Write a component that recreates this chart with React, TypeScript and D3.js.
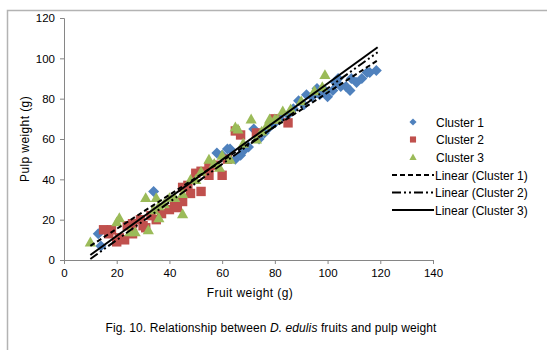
import React, { useRef, useEffect } from "react";
import * as d3 from "d3";

// fruit weight (g), pulp weight (g) per cluster
const cluster1 = [
  [13, 13], [14, 7], [34, 34], [58, 53], [60, 52], [62, 55], [63, 55], [65, 50],
  [67, 52], [68, 54], [70, 56], [72, 65], [74, 60], [76, 63], [78, 66], [80, 68],
  [82, 70], [85, 72], [87, 75], [89, 79], [91, 77], [92, 82], [94, 81], [96, 85],
  [97, 82], [98, 84], [99, 84], [100, 81], [102, 84], [103, 88], [104, 90], [105, 86],
  [107, 86], [108.5, 84], [109, 90], [111, 88], [113, 90], [115, 93], [116, 93], [118.5, 94],
];
const cluster2 = [
  [15, 15], [18, 15], [17, 13], [20, 9], [21, 11], [23, 10], [24, 17], [26, 18],
  [26, 13], [29, 20], [30, 17], [31, 16], [33, 22], [35, 20], [37, 23], [40, 25],
  [42, 28], [43, 26], [45, 29], [45, 36], [47, 37], [48, 33], [50, 43], [52, 34],
  [52, 44], [55, 42], [55, 46], [57, 47], [60, 42], [62, 50], [65, 64], [67, 62],
  [73, 63], [80, 70], [85, 68],
];
const cluster3 = [
  [10, 9], [20, 19], [21, 21], [25, 14], [27, 14], [31, 31], [32, 15], [34, 25],
  [35, 31], [36, 21], [36, 27], [38, 28], [40, 31], [42, 31], [45, 23], [45, 33],
  [48, 40], [50, 40], [52, 44], [55, 50], [57, 48], [59, 46], [60, 52], [63, 50],
  [65, 66], [66, 65], [68, 58], [71, 70], [73, 60], [75, 64], [77, 67], [78, 70],
  [80, 70], [81, 70], [83, 74], [86, 75], [90, 79], [95, 84], [98, 86], [99, 92],
];

// linear trendlines (start, end)
const trendX = [10, 119];
const trend1 = [7, 99];
const trend2 = [0.5, 103];
const trend3 = [2.5, 105.5];

const xTicks = [0, 20, 40, 60, 80, 100, 120, 140];
const yTicks = [0, 20, 40, 60, 80, 100, 120];

const seriesNames = ["Cluster 1", "Cluster 2", "Cluster 3"];
const trendNames = ["Linear (Cluster 1)", "Linear (Cluster 2)", "Linear (Cluster 3)"];

const colors = ["#4f81bd", "#c0504d", "#9bbb59"];
const dashes = ["5,3", "9,3,2,3,2,3", null];
const font = "'Liberation Sans', Arial, sans-serif";

const markerPath = (i: number) => {
  if (i === 0) return "M0,-5.5L5.5,0L0,5.5L-5.5,0Z";
  if (i === 1) return "M-4.7,-4.7H4.7V4.7H-4.7Z";
  return "M0,-5.3L5.6,4.6L-5.6,4.6Z";
};

export default function App() {
  const svgRef = useRef<SVGSVGElement>(null);

  useEffect(() => {
    const svg = d3.select(svgRef.current);
    svg.selectAll("*").remove();

    const x = d3.scaleLinear().domain([0, 140]).range([64, 433]);
    const y = d3.scaleLinear().domain([0, 120]).range([260, 18]);

    // outer frame
    svg
      .append("rect")
      .attr("x", 7.5)
      .attr("y", 10.5)
      .attr("width", 600)
      .attr("height", 400)
      .attr("fill", "white")
      .attr("stroke", "#b3b3b3")
      .attr("stroke-width", 1.5);

    // axes
    const axisColor = "#868686";
    const yAxis = svg
      .append("g")
      .attr("transform", `translate(${x(0)},0)`)
      .call(d3.axisLeft(y).tickValues(yTicks).tickSize(4).tickPadding(5));
    const xAxis = svg
      .append("g")
      .attr("transform", `translate(0,${y(0)})`)
      .call(d3.axisBottom(x).tickValues(xTicks).tickSize(4).tickPadding(5));
    [xAxis, yAxis].forEach((g) => {
      g.select(".domain").attr("stroke", axisColor);
      g.selectAll(".tick line").attr("stroke", axisColor);
      g.selectAll(".tick text")
        .attr("fill", "#000")
        .style("font-family", font)
        .style("font-size", "11.5px");
    });

    // points
    [cluster1, cluster2, cluster3].forEach((data, i) => {
      svg
        .append("g")
        .selectAll("path")
        .data(data)
        .enter()
        .append("path")
        .attr("transform", (d) => `translate(${x(d[0])},${y(d[1])})`)
        .attr("d", markerPath(i))
        .attr("fill", colors[i]);
    });

    // trendlines
    [trend1, trend2, trend3].forEach((t, i) => {
      const line = svg
        .append("line")
        .attr("x1", x(trendX[0]))
        .attr("y1", y(t[0]))
        .attr("x2", x(trendX[1]))
        .attr("y2", y(t[1]))
        .attr("stroke", "#000")
        .attr("stroke-width", 2);
      if (dashes[i]) line.attr("stroke-dasharray", dashes[i]);
    });

    // axis titles
    svg
      .append("text")
      .attr("transform", "translate(29,139) rotate(-90)")
      .attr("text-anchor", "middle")
      .style("font-family", font)
      .style("font-size", "12px")
      .style("letter-spacing", "0.4px")
      .text("Pulp weight (g)");

    svg
      .append("text")
      .attr("x", 250)
      .attr("y", 297)
      .attr("text-anchor", "middle")
      .style("font-family", font)
      .style("font-size", "12px")
      .style("letter-spacing", "0.4px")
      .text("Fruit weight (g)");

    // legend
    const legend = svg.append("g").style("font-family", font).style("font-size", "12px");
    seriesNames.forEach((name, i) => {
      const ly = 122 + i * 17.5;
      legend
        .append("path")
        .attr("transform", `translate(413,${ly}) scale(0.65)`)
        .attr("d", markerPath(i))
        .attr("fill", colors[i]);
      legend.append("text").attr("x", 436).attr("y", ly + 4.5).text(name);
    });
    trendNames.forEach((name, i) => {
      const ly = 175 + i * 17.5;
      const l = legend
        .append("line")
        .attr("x1", 392)
        .attr("x2", 434)
        .attr("y1", ly)
        .attr("y2", ly)
        .attr("stroke", "#000")
        .attr("stroke-width", 2);
      if (dashes[i]) l.attr("stroke-dasharray", dashes[i]);
      legend.append("text").attr("x", 435).attr("y", ly + 4.5).text(name);
    });

    // caption
    const cap = svg
      .append("text")
      .attr("x", 271)
      .attr("y", 332)
      .attr("text-anchor", "middle")
      .style("font-family", font)
      .style("font-size", "12px")
      .style("letter-spacing", "0.1px");
    cap.append("tspan").text("Fig. 10. Relationship between ");
    cap.append("tspan").style("font-style", "italic").text("D. edulis");
    cap.append("tspan").text(" fruits and pulp weight");
  }, []);

  return (
    <svg
      ref={svgRef}
      width={547}
      height={350}
      style={{ position: "absolute", left: 0, top: 0, background: "white" }}
    ></svg>
  );
}
